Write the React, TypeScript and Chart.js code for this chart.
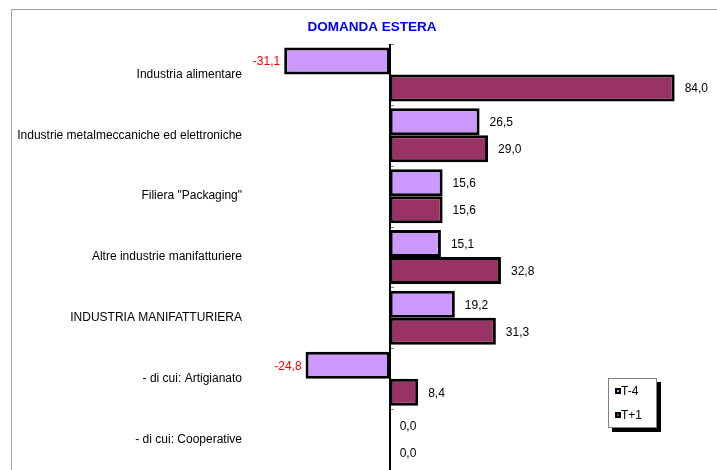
import React, { useEffect, useRef } from "react";
import { Chart, registerables } from "chart.js";

Chart.register(...registerables);

const chartTitle = "DOMANDA ESTERA";
const categories = [
  "Industria alimentare",
  "Industrie metalmeccaniche ed elettroniche",
  'Filiera "Packaging"',
  "Altre industrie manifatturiere",
  "INDUSTRIA MANIFATTURIERA",
  "- di cui: Artigianato",
  "- di cui: Cooperative",
];
const seriesNames = ["T-4", "T+1"];
const valuesT4 = [-31.1, 26.5, 15.6, 15.1, 19.2, -24.8, 0.0];
const valuesT1 = [84.0, 29.0, 15.6, 32.8, 31.3, 8.4, 0.0];
const xMin = -40;
const xMax = 90;

const FONT = "Arial, 'Liberation Sans', sans-serif";
const COLORS = ["#CC99FF", "#993366"];

const decor = {
  id: "decor",
  beforeDraw(chart: any) {
    const ctx = chart.ctx;
    ctx.save();
    ctx.fillStyle = "#ffffff";
    ctx.fillRect(0, 0, chart.width, chart.height);
    ctx.strokeStyle = "#A0A0A0";
    ctx.lineWidth = 1;
    ctx.beginPath();
    ctx.moveTo(11.5, chart.height);
    ctx.lineTo(11.5, 9.5);
    ctx.lineTo(chart.width, 9.5);
    ctx.stroke();
    ctx.fillStyle = "#0000FF";
    ctx.font = "bold 13.5px " + FONT;
    ctx.textAlign = "center";
    ctx.textBaseline = "alphabetic";
    ctx.fillText(chartTitle, 372, 31);
    ctx.restore();
  },
  afterDatasetsDraw(chart: any) {
    const ctx = chart.ctx;
    const xs = chart.scales.x;
    const ys = chart.scales.y;
    const area = chart.chartArea;
    const x0 = xs.getPixelForValue(0);
    ctx.save();
    ctx.fillStyle = "#000";
    ctx.fillRect(Math.round(x0) - 1, area.top, 2, area.bottom - area.top);
    ctx.strokeStyle = "#808080";
    ctx.lineWidth = 1;
    for (let i = 0; i <= categories.length; i++) {
      const yy = Math.round(ys.getPixelForValue(i - 0.5)) + 0.5;
      ctx.beginPath();
      ctx.moveTo(Math.round(x0) + 1, yy);
      ctx.lineTo(Math.round(x0) + 4, yy);
      ctx.stroke();
    }
    ctx.font = "12px " + FONT;
    ctx.textBaseline = "middle";
    chart.data.datasets.forEach((ds: any, di: number) => {
      const meta = chart.getDatasetMeta(di);
      meta.data.forEach((el: any, i: number) => {
        const v = ds.data[i];
        const txt = v.toFixed(1).replace(".", ",");
        if (v < 0) {
          ctx.fillStyle = "#FF0000";
          ctx.textAlign = "right";
          ctx.fillText(txt, el.x - 4, el.y + 1);
        } else {
          ctx.fillStyle = "#000";
          ctx.textAlign = "left";
          ctx.fillText(txt, el.x + 10, el.y + 1);
        }
      });
    });
    ctx.restore();
  },
  afterDraw(chart: any) {
    const ctx = chart.ctx;
    ctx.save();
    const bx = 608, by = 378, bw = 49, bh = 50;
    ctx.fillStyle = "#000";
    ctx.fillRect(bx + 4, by + 4, bw, bh);
    ctx.fillStyle = "#fff";
    ctx.fillRect(bx, by, bw, bh);
    ctx.strokeStyle = "#808080";
    ctx.lineWidth = 1;
    ctx.strokeRect(bx + 0.5, by + 0.5, bw - 1, bh - 1);
    ctx.font = "12px " + FONT;
    ctx.textBaseline = "middle";
    ctx.textAlign = "left";
    chart.data.datasets.forEach((ds: any, di: number) => {
      const cy = 391 + di * 24;
      ctx.fillStyle = "#000";
      ctx.fillRect(615, cy - 3, 6, 6);
      ctx.fillStyle = ds.backgroundColor;
      ctx.fillRect(617, cy - 1, 2, 2);
      ctx.fillStyle = "#000";
      ctx.fillText(ds.label, 621, cy + 1);
    });
    ctx.restore();
  },
};

export default function App() {
  const ref = useRef<HTMLCanvasElement | null>(null);
  useEffect(() => {
    if (!ref.current) return;
    const chart = new Chart(ref.current, {
      type: "bar",
      data: {
        labels: categories,
        datasets: [
          {
            label: seriesNames[0],
            data: valuesT4,
            backgroundColor: COLORS[0],
            borderColor: "#000",
            borderWidth: 3,
            borderSkipped: false,
          },
          {
            label: seriesNames[1],
            data: valuesT1,
            backgroundColor: COLORS[1],
            borderColor: "#000",
            borderWidth: 3,
            borderSkipped: false,
          },
        ],
      },
      options: {
        indexAxis: "y",
        responsive: false,
        animation: false,
        devicePixelRatio: 1,
        layout: { padding: { left: 0, right: 22, top: 44, bottom: 0 } },
        datasets: {
          bar: { categoryPercentage: 0.887, barPercentage: 1 },
        },
        scales: {
          x: { type: "linear", min: xMin, max: xMax, display: false },
          y: {
            type: "category",
            position: "left",
            grid: { display: false, drawTicks: false },
            border: { display: false },
            ticks: {
              color: "#000",
              font: { family: FONT, size: 12 },
              padding: 12,
              autoSkip: false,
            },
            afterFit(scale: any) {
              scale.width = 254;
              scale.paddingTop = 0;
              scale.paddingBottom = 0;
            },
          },
        },
        plugins: {
          legend: { display: false },
          title: { display: false },
          tooltip: { enabled: false },
        },
      } as any,
      plugins: [decor],
    });
    return () => chart.destroy();
  }, []);
  return (
    <div style={{ position: "fixed", left: 0, top: 0, width: 717, height: 470, background: "#fff" }}>
      <canvas ref={ref} width={717} height={470} style={{ display: "block", width: 717, height: 470 }} />
    </div>
  );
}
